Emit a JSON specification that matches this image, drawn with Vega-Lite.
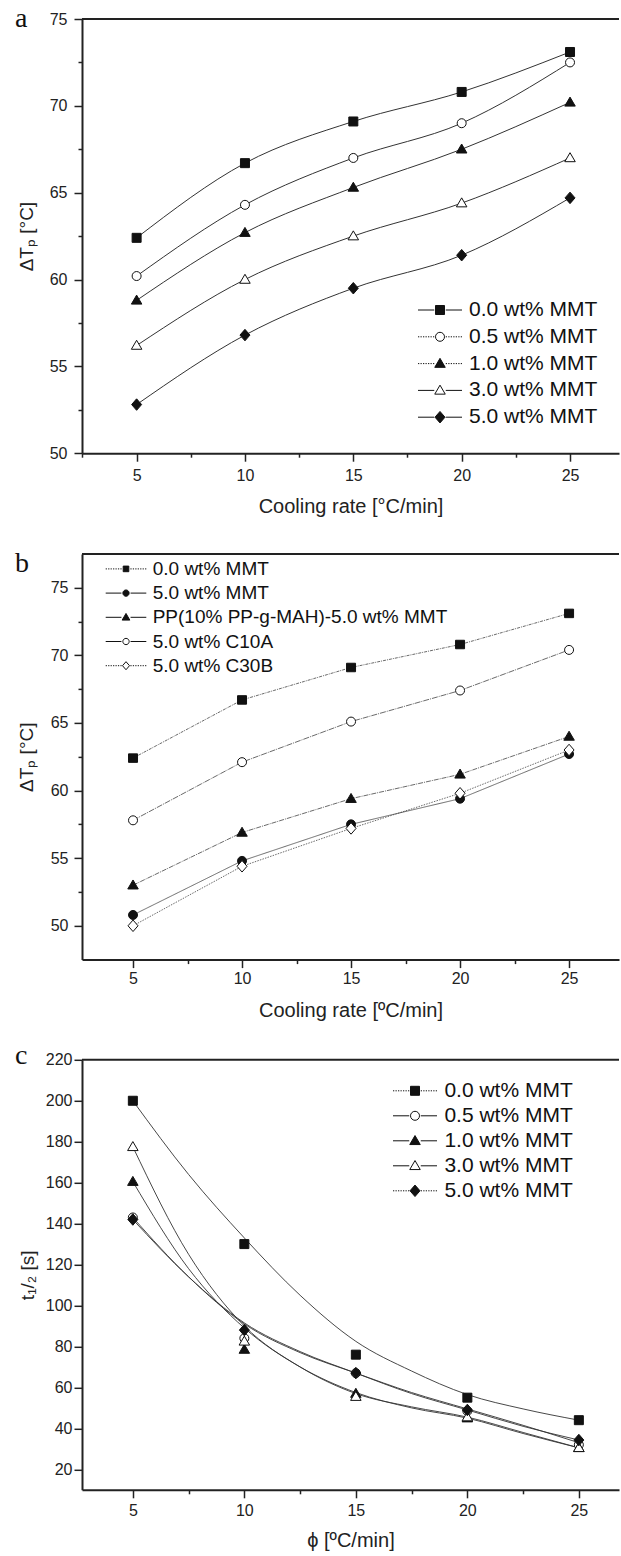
{
  "$schema": "https://vega.github.io/schema/vega-lite/v6.json",
  "background": "white",
  "padding": {"left": 15, "top": 5, "right": 0, "bottom": 0},
  "bounds": "flush",
  "spacing": 99.9,
  "resolve": {
    "scale": {"shape": "independent", "fill": "independent", "stroke": "independent", "strokeDash": "independent"},
    "legend": {"shape": "independent", "fill": "independent", "stroke": "independent", "strokeDash": "independent"}
  },
  "datasets": {
    "a": [
      {"rate": 5, "dT": 62.4, "series": "0.0 wt% MMT"},
      {"rate": 10, "dT": 66.7, "series": "0.0 wt% MMT"},
      {"rate": 15, "dT": 69.1, "series": "0.0 wt% MMT"},
      {"rate": 20, "dT": 70.8, "series": "0.0 wt% MMT"},
      {"rate": 25, "dT": 73.1, "series": "0.0 wt% MMT"},
      {"rate": 5, "dT": 60.2, "series": "0.5 wt% MMT"},
      {"rate": 10, "dT": 64.3, "series": "0.5 wt% MMT"},
      {"rate": 15, "dT": 67.0, "series": "0.5 wt% MMT"},
      {"rate": 20, "dT": 69.0, "series": "0.5 wt% MMT"},
      {"rate": 25, "dT": 72.5, "series": "0.5 wt% MMT"},
      {"rate": 5, "dT": 58.8, "series": "1.0 wt% MMT"},
      {"rate": 10, "dT": 62.7, "series": "1.0 wt% MMT"},
      {"rate": 15, "dT": 65.3, "series": "1.0 wt% MMT"},
      {"rate": 20, "dT": 67.5, "series": "1.0 wt% MMT"},
      {"rate": 25, "dT": 70.2, "series": "1.0 wt% MMT"},
      {"rate": 5, "dT": 56.2, "series": "3.0 wt% MMT"},
      {"rate": 10, "dT": 60.0, "series": "3.0 wt% MMT"},
      {"rate": 15, "dT": 62.5, "series": "3.0 wt% MMT"},
      {"rate": 20, "dT": 64.4, "series": "3.0 wt% MMT"},
      {"rate": 25, "dT": 67.0, "series": "3.0 wt% MMT"},
      {"rate": 5, "dT": 52.8, "series": "5.0 wt% MMT"},
      {"rate": 10, "dT": 56.8, "series": "5.0 wt% MMT"},
      {"rate": 15, "dT": 59.5, "series": "5.0 wt% MMT"},
      {"rate": 20, "dT": 61.4, "series": "5.0 wt% MMT"},
      {"rate": 25, "dT": 64.7, "series": "5.0 wt% MMT"}
    ],
    "b": [
      {"rate": 5, "dT": 62.4, "series": "0.0 wt% MMT"},
      {"rate": 10, "dT": 66.7, "series": "0.0 wt% MMT"},
      {"rate": 15, "dT": 69.1, "series": "0.0 wt% MMT"},
      {"rate": 20, "dT": 70.8, "series": "0.0 wt% MMT"},
      {"rate": 25, "dT": 73.1, "series": "0.0 wt% MMT"},
      {"rate": 5, "dT": 50.8, "series": "5.0 wt% MMT"},
      {"rate": 10, "dT": 54.8, "series": "5.0 wt% MMT"},
      {"rate": 15, "dT": 57.5, "series": "5.0 wt% MMT"},
      {"rate": 20, "dT": 59.4, "series": "5.0 wt% MMT"},
      {"rate": 25, "dT": 62.7, "series": "5.0 wt% MMT"},
      {"rate": 5, "dT": 53.0, "series": "PP(10% PP-g-MAH)-5.0 wt% MMT"},
      {"rate": 10, "dT": 56.9, "series": "PP(10% PP-g-MAH)-5.0 wt% MMT"},
      {"rate": 15, "dT": 59.4, "series": "PP(10% PP-g-MAH)-5.0 wt% MMT"},
      {"rate": 20, "dT": 61.2, "series": "PP(10% PP-g-MAH)-5.0 wt% MMT"},
      {"rate": 25, "dT": 64.0, "series": "PP(10% PP-g-MAH)-5.0 wt% MMT"},
      {"rate": 5, "dT": 57.8, "series": "5.0 wt% C10A"},
      {"rate": 10, "dT": 62.1, "series": "5.0 wt% C10A"},
      {"rate": 15, "dT": 65.1, "series": "5.0 wt% C10A"},
      {"rate": 20, "dT": 67.4, "series": "5.0 wt% C10A"},
      {"rate": 25, "dT": 70.4, "series": "5.0 wt% C10A"},
      {"rate": 5, "dT": 50.0, "series": "5.0 wt% C30B"},
      {"rate": 10, "dT": 54.4, "series": "5.0 wt% C30B"},
      {"rate": 15, "dT": 57.2, "series": "5.0 wt% C30B"},
      {"rate": 20, "dT": 59.8, "series": "5.0 wt% C30B"},
      {"rate": 25, "dT": 63.0, "series": "5.0 wt% C30B"}
    ],
    "cpts": [
      {"phi": 5, "t": 200, "series": "0.0 wt% MMT"},
      {"phi": 10, "t": 130, "series": "0.0 wt% MMT"},
      {"phi": 15, "t": 76, "series": "0.0 wt% MMT"},
      {"phi": 20, "t": 55, "series": "0.0 wt% MMT"},
      {"phi": 25, "t": 44, "series": "0.0 wt% MMT"},
      {"phi": 5, "t": 143, "series": "0.5 wt% MMT"},
      {"phi": 10, "t": 84, "series": "0.5 wt% MMT"},
      {"phi": 15, "t": 67, "series": "0.5 wt% MMT"},
      {"phi": 20, "t": 48.5, "series": "0.5 wt% MMT"},
      {"phi": 25, "t": 32, "series": "0.5 wt% MMT"},
      {"phi": 5, "t": 160.5, "series": "1.0 wt% MMT"},
      {"phi": 10, "t": 78.5, "series": "1.0 wt% MMT"},
      {"phi": 15, "t": 57, "series": "1.0 wt% MMT"},
      {"phi": 20, "t": 45, "series": "1.0 wt% MMT"},
      {"phi": 25, "t": 30.5, "series": "1.0 wt% MMT"},
      {"phi": 5, "t": 177.5, "series": "3.0 wt% MMT"},
      {"phi": 10, "t": 82.5, "series": "3.0 wt% MMT"},
      {"phi": 15, "t": 55.5, "series": "3.0 wt% MMT"},
      {"phi": 20, "t": 45.5, "series": "3.0 wt% MMT"},
      {"phi": 25, "t": 30.5, "series": "3.0 wt% MMT"},
      {"phi": 5, "t": 142, "series": "5.0 wt% MMT"},
      {"phi": 10, "t": 88, "series": "5.0 wt% MMT"},
      {"phi": 15, "t": 67, "series": "5.0 wt% MMT"},
      {"phi": 20, "t": 49, "series": "5.0 wt% MMT"},
      {"phi": 25, "t": 34.3, "series": "5.0 wt% MMT"}
    ],
    "ccurve": [
      {"phi": 5, "t": 200, "series": "0.0 wt% MMT"},
      {"phi": 7.5, "t": 164, "series": "0.0 wt% MMT"},
      {"phi": 10, "t": 133, "series": "0.0 wt% MMT"},
      {"phi": 12.5, "t": 105, "series": "0.0 wt% MMT"},
      {"phi": 15, "t": 82.5, "series": "0.0 wt% MMT"},
      {"phi": 17.5, "t": 68, "series": "0.0 wt% MMT"},
      {"phi": 20, "t": 56.5, "series": "0.0 wt% MMT"},
      {"phi": 22.5, "t": 49.5, "series": "0.0 wt% MMT"},
      {"phi": 25, "t": 44, "series": "0.0 wt% MMT"},
      {"phi": 5, "t": 143, "series": "0.5 wt% MMT"},
      {"phi": 7.5, "t": 114, "series": "0.5 wt% MMT"},
      {"phi": 10, "t": 91, "series": "0.5 wt% MMT"},
      {"phi": 12.5, "t": 77, "series": "0.5 wt% MMT"},
      {"phi": 15, "t": 67, "series": "0.5 wt% MMT"},
      {"phi": 17.5, "t": 57.5, "series": "0.5 wt% MMT"},
      {"phi": 20, "t": 49.5, "series": "0.5 wt% MMT"},
      {"phi": 22.5, "t": 41.5, "series": "0.5 wt% MMT"},
      {"phi": 25, "t": 33, "series": "0.5 wt% MMT"},
      {"phi": 5, "t": 160.5, "series": "1.0 wt% MMT"},
      {"phi": 7.5, "t": 118, "series": "1.0 wt% MMT"},
      {"phi": 10, "t": 89, "series": "1.0 wt% MMT"},
      {"phi": 12.5, "t": 70, "series": "1.0 wt% MMT"},
      {"phi": 15, "t": 57.5, "series": "1.0 wt% MMT"},
      {"phi": 17.5, "t": 50, "series": "1.0 wt% MMT"},
      {"phi": 20, "t": 45, "series": "1.0 wt% MMT"},
      {"phi": 22.5, "t": 37.5, "series": "1.0 wt% MMT"},
      {"phi": 25, "t": 30.5, "series": "1.0 wt% MMT"},
      {"phi": 5, "t": 177.5, "series": "3.0 wt% MMT"},
      {"phi": 7.5, "t": 125, "series": "3.0 wt% MMT"},
      {"phi": 10, "t": 90, "series": "3.0 wt% MMT"},
      {"phi": 12.5, "t": 70, "series": "3.0 wt% MMT"},
      {"phi": 15, "t": 57, "series": "3.0 wt% MMT"},
      {"phi": 17.5, "t": 50.5, "series": "3.0 wt% MMT"},
      {"phi": 20, "t": 45.5, "series": "3.0 wt% MMT"},
      {"phi": 22.5, "t": 38, "series": "3.0 wt% MMT"},
      {"phi": 25, "t": 30.5, "series": "3.0 wt% MMT"},
      {"phi": 5, "t": 142, "series": "5.0 wt% MMT"},
      {"phi": 7.5, "t": 114, "series": "5.0 wt% MMT"},
      {"phi": 10, "t": 91.5, "series": "5.0 wt% MMT"},
      {"phi": 12.5, "t": 77.5, "series": "5.0 wt% MMT"},
      {"phi": 15, "t": 67, "series": "5.0 wt% MMT"},
      {"phi": 17.5, "t": 57, "series": "5.0 wt% MMT"},
      {"phi": 20, "t": 49, "series": "5.0 wt% MMT"},
      {"phi": 22.5, "t": 41, "series": "5.0 wt% MMT"},
      {"phi": 25, "t": 34.3, "series": "5.0 wt% MMT"}
    ]
  },
  "vconcat": [
    {
      "width": 537,
      "height": 434.2,
      "title": {"text": "a", "dx": -67, "dy": 26},
      "data": {"name": "a"},
      "resolve": {
        "scale": {"shape": "independent", "fill": "independent", "stroke": "independent"},
        "legend": {"shape": "independent", "fill": "independent", "stroke": "independent"}
      },
      "layer": [
        {
          "mark": {"type": "line", "interpolate": "monotone", "color": "#333333", "strokeWidth": 1},
          "encoding": {
            "x": {"field": "rate", "type": "quantitative",
              "scale": {"domain": [2.48, 27.26], "nice": false, "zero": false},
              "axis": {"title": "Cooling rate [°C/min]", "format": "d",
                "values": [2.5, 5, 7.5, 10, 12.5, 15, 17.5, 20, 22.5, 25],
                "labelExpr": "datum.value % 5 === 0 ? datum.label : ''",
                "tickSize": {"condition": {"test": "datum.value % 5 === 0", "value": 8}, "value": 4},
                "labelPadding": 6, "titlePadding": 13}},
            "y": {"field": "dT", "type": "quantitative",
              "scale": {"domain": [50, 75], "nice": false, "zero": false},
              "axis": {"title": "ΔTₚ [°C]", "format": "d", "titleFontSize": 19,
                "values": [50, 52.5, 55, 57.5, 60, 62.5, 65, 67.5, 70, 72.5, 75],
                "labelExpr": "datum.value % 5 === 0 ? datum.label : ''",
                "tickSize": {"condition": {"test": "datum.value % 5 === 0", "value": 8}, "value": 4},
                "labelPadding": 7, "titlePadding": 13}},
            "detail": {"field": "series"}
          }
        },
        {
          "mark": {"type": "point", "filled": true, "size": 100, "opacity": 1, "stroke": "#111111", "strokeWidth": 1},
          "encoding": {
            "x": {"field": "rate", "type": "quantitative"},
            "y": {"field": "dT", "type": "quantitative"},
            "shape": {"field": "series", "type": "nominal",
              "scale": {"domain": ["0.0 wt% MMT", "0.5 wt% MMT", "1.0 wt% MMT", "3.0 wt% MMT", "5.0 wt% MMT"],
                "range": ["M-0.9,-0.9H0.9V0.9H-0.9Z", "M0.9,0A0.9,0.9,0,1,1,-0.9,0A0.9,0.9,0,1,1,0.9,0Z", "M0,-1.05L1.05,0.75L-1.05,0.75Z", "M0,-1.05L1.05,0.75L-1.05,0.75Z", "M0,-1.15L1,0L0,1.15L-1,0Z"]},
              "legend": null},
            "fill": {"field": "series", "type": "nominal",
              "scale": {"domain": ["0.0 wt% MMT", "0.5 wt% MMT", "1.0 wt% MMT", "3.0 wt% MMT", "5.0 wt% MMT"],
                "range": ["#111111", "#ffffff", "#111111", "#ffffff", "#111111"]},
              "legend": null}
          }
        },
        {
          "mark": {"type": "point", "filled": false, "strokeWidth": 1, "size": 100, "opacity": 0, "clip": true},
          "encoding": {
            "x": {"field": "rate", "type": "quantitative"},
            "y": {"field": "dT", "type": "quantitative"},
            "shape": {"field": "series", "type": "nominal",
              "scale": {"domain": ["0.0 wt% MMT", "0.5 wt% MMT", "1.0 wt% MMT", "3.0 wt% MMT", "5.0 wt% MMT"],
                "range": ["M-4.4,0H-1.15M1.15,0H4.4M-0.9,-0.9H0.9V0.9H-0.9Z", "M-4.4,0h0.25m0.25,0h0.25m0.25,0h0.25m0.25,0h0.25m0.25,0h0.25m0.25,0h0.25m0.25,0h0.25M1.15,0h0.25m0.25,0h0.25m0.25,0h0.25m0.25,0h0.25m0.25,0h0.25m0.25,0h0.25m0.25,0h0.25M0.9,0A0.9,0.9,0,1,1,-0.9,0A0.9,0.9,0,1,1,0.9,0Z", "M-4.4,0h0.25m0.25,0h0.25m0.25,0h0.25m0.25,0h0.25m0.25,0h0.25m0.25,0h0.25m0.25,0h0.25M1.15,0h0.25m0.25,0h0.25m0.25,0h0.25m0.25,0h0.25m0.25,0h0.25m0.25,0h0.25m0.25,0h0.25M0,-1.05L1.05,0.75L-1.05,0.75Z", "M-4.4,0H-1.15M1.15,0H4.4M0,-1.05L1.05,0.75L-1.05,0.75Z", "M-4.4,0H-1.15M1.15,0H4.4M0,-1.15L1,0L0,1.15L-1,0Z"]},
              "legend": {"title": null, "orient": "none", "legendX": 347.5, "legendY": 280.5,
                "labelFontSize": 21, "labelOffset": 18.5, "rowPadding": 4.8, "symbolSize": 100, "symbolOpacity": 1, "labelLimit": 0}},
            "fill": {"field": "series", "type": "nominal",
              "scale": {"domain": ["0.0 wt% MMT", "0.5 wt% MMT", "1.0 wt% MMT", "3.0 wt% MMT", "5.0 wt% MMT"],
                "range": ["#111111", "#ffffff", "#111111", "#ffffff", "#111111"]},
              "legend": {"title": null, "orient": "none", "legendX": 347.5, "legendY": 280.5,
                "labelFontSize": 21, "labelOffset": 18.5, "rowPadding": 4.8, "symbolSize": 100, "symbolOpacity": 1, "labelLimit": 0}},
            "stroke": {"field": "series", "type": "nominal",
              "scale": {"domain": ["0.0 wt% MMT", "0.5 wt% MMT", "1.0 wt% MMT", "3.0 wt% MMT", "5.0 wt% MMT"],
                "range": ["#111111", "#111111", "#111111", "#111111", "#111111"]},
              "legend": {"title": null, "orient": "none", "legendX": 347.5, "legendY": 280.5,
                "labelFontSize": 21, "labelOffset": 18.5, "rowPadding": 4.8, "symbolSize": 100, "symbolOpacity": 1, "labelLimit": 0}}
          }
        },
        {
          "data": {"values": [{}]},
          "mark": {"type": "rule", "color": "#222222", "strokeWidth": 2},
          "encoding": {"y": {"datum": 75}}
        }
      ]
    },
    {
      "width": 537,
      "height": 405.7,
      "title": {"text": "b", "dx": -67, "dy": 29},
      "data": {"name": "b"},
      "resolve": {
        "scale": {"shape": "independent", "fill": "independent", "stroke": "independent"},
        "legend": {"shape": "independent", "fill": "independent", "stroke": "independent"}
      },
      "layer": [
        {
          "mark": {"type": "line", "color": "#444444", "strokeWidth": 0.8},
          "encoding": {
            "x": {"field": "rate", "type": "quantitative",
              "scale": {"domain": [2.66, 27.29], "nice": false, "zero": false},
              "axis": {"title": "Cooling rate [ºC/min]", "format": "d",
                "values": [5, 7.5, 10, 12.5, 15, 17.5, 20, 22.5, 25],
                "labelExpr": "datum.value % 5 === 0 ? datum.label : ''",
                "tickSize": {"condition": {"test": "datum.value % 5 === 0", "value": 8}, "value": 4},
                "labelPadding": 3, "titlePadding": 14}},
            "y": {"field": "dT", "type": "quantitative",
              "scale": {"domain": [47.5, 77.5], "nice": false, "zero": false},
              "axis": {"title": "ΔTₚ [°C]", "format": "d", "titleFontSize": 19,
                "values": [50, 52.5, 55, 57.5, 60, 62.5, 65, 67.5, 70, 72.5, 75],
                "labelExpr": "datum.value % 5 === 0 ? datum.label : ''",
                "tickSize": {"condition": {"test": "datum.value % 5 === 0", "value": 8}, "value": 4},
                "labelPadding": 6, "titlePadding": 14}},
            "detail": {"field": "series"},
            "strokeDash": {"field": "series", "type": "nominal",
              "scale": {"domain": ["5.0 wt% C30B", "5.0 wt% C10A", "PP(10% PP-g-MAH)-5.0 wt% MMT", "5.0 wt% MMT", "0.0 wt% MMT"],
                "range": [[1.5, 1.2], [6, 1, 1, 1], [5, 1, 1, 1], [1, 0], [3, 1, 1, 1]]},
              "legend": null}
          }
        },
        {
          "mark": {"type": "point", "filled": true, "size": 100, "opacity": 1, "stroke": "#111111", "strokeWidth": 1},
          "encoding": {
            "x": {"field": "rate", "type": "quantitative"},
            "y": {"field": "dT", "type": "quantitative"},
            "shape": {"field": "series", "type": "nominal",
              "scale": {"domain": ["0.0 wt% MMT", "5.0 wt% MMT", "PP(10% PP-g-MAH)-5.0 wt% MMT", "5.0 wt% C10A", "5.0 wt% C30B"],
                "range": ["M-0.9,-0.85H0.9V0.85H-0.9Z", "M0.9,0A0.9,0.9,0,1,1,-0.9,0A0.9,0.9,0,1,1,0.9,0Z", "M0,-1.05L1.05,0.75L-1.05,0.75Z", "M0.9,0A0.9,0.9,0,1,1,-0.9,0A0.9,0.9,0,1,1,0.9,0Z", "M0,-1.15L1,0L0,1.15L-1,0Z"]},
              "legend": null},
            "fill": {"field": "series", "type": "nominal",
              "scale": {"domain": ["0.0 wt% MMT", "5.0 wt% MMT", "PP(10% PP-g-MAH)-5.0 wt% MMT", "5.0 wt% C10A", "5.0 wt% C30B"],
                "range": ["#111111", "#111111", "#111111", "#ffffff", "#ffffff"]},
              "legend": null}
          }
        },
        {
          "mark": {"type": "point", "filled": false, "strokeWidth": 1, "size": 100, "opacity": 0, "clip": true},
          "encoding": {
            "x": {"field": "rate", "type": "quantitative"},
            "y": {"field": "dT", "type": "quantitative"},
            "shape": {"field": "series", "type": "nominal",
              "scale": {"domain": ["0.0 wt% MMT", "5.0 wt% MMT", "PP(10% PP-g-MAH)-5.0 wt% MMT", "5.0 wt% C10A", "5.0 wt% C30B"],
                "range": ["M-5.8,0h0.35m0.35,0h0.35m0.35,0h0.35m0.35,0h0.35m0.35,0h0.35m0.35,0h0.35m0.35,0h0.35M1.25,0h0.35m0.35,0h0.35m0.35,0h0.35m0.35,0h0.35m0.35,0h0.35m0.35,0h0.35m0.35,0h0.35M-0.8,-0.8H0.8V0.8H-0.8Z", "M-5.8,0H-1.3M1.3,0H5.8M0.9,0A0.9,0.9,0,1,1,-0.9,0A0.9,0.9,0,1,1,0.9,0Z", "M-5.8,0H-1.3M1.3,0H5.8M0,-1.1L1.1,0.8L-1.1,0.8Z", "M-5.8,0H-1.3M1.3,0H5.8M0.9,0A0.9,0.9,0,1,1,-0.9,0A0.9,0.9,0,1,1,0.9,0Z", "M-5.8,0h0.35m0.35,0h0.35m0.35,0h0.35m0.35,0h0.35m0.35,0h0.35m0.35,0h0.35m0.35,0h0.35M1.25,0h0.35m0.35,0h0.35m0.35,0h0.35m0.35,0h0.35m0.35,0h0.35m0.35,0h0.35m0.35,0h0.35M0,-1.15L1,0L0,1.15L-1,0Z"]},
              "legend": {"title": null, "orient": "none", "legendX": 34.5, "legendY": 5.5,
                "labelFontSize": 19, "labelOffset": 17.2, "rowPadding": 4.2, "symbolSize": 49, "symbolOpacity": 1, "labelLimit": 0}},
            "fill": {"field": "series", "type": "nominal",
              "scale": {"domain": ["0.0 wt% MMT", "5.0 wt% MMT", "PP(10% PP-g-MAH)-5.0 wt% MMT", "5.0 wt% C10A", "5.0 wt% C30B"],
                "range": ["#111111", "#111111", "#111111", "#ffffff", "#ffffff"]},
              "legend": {"title": null, "orient": "none", "legendX": 34.5, "legendY": 5.5,
                "labelFontSize": 19, "labelOffset": 17.2, "rowPadding": 4.2, "symbolSize": 49, "symbolOpacity": 1, "labelLimit": 0}},
            "stroke": {"field": "series", "type": "nominal",
              "scale": {"domain": ["0.0 wt% MMT", "5.0 wt% MMT", "PP(10% PP-g-MAH)-5.0 wt% MMT", "5.0 wt% C10A", "5.0 wt% C30B"],
                "range": ["#111111", "#111111", "#111111", "#111111", "#111111"]},
              "legend": {"title": null, "orient": "none", "legendX": 34.5, "legendY": 5.5,
                "labelFontSize": 19, "labelOffset": 17.2, "rowPadding": 4.2, "symbolSize": 49, "symbolOpacity": 1, "labelLimit": 0}}
          }
        },
        {
          "data": {"values": [{}]},
          "mark": {"type": "rule", "color": "#222222", "strokeWidth": 2},
          "encoding": {"y": {"datum": 77.5}}
        }
      ]
    },
    {
      "width": 537,
      "height": 430,
      "title": {"text": "c", "dx": -67, "dy": 22},
      "resolve": {
        "scale": {"shape": "independent", "fill": "independent", "stroke": "independent"},
        "legend": {"shape": "independent", "fill": "independent", "stroke": "independent"}
      },
      "layer": [
        {
          "data": {"name": "ccurve"},
          "mark": {"type": "line", "interpolate": "monotone", "color": "#333333", "strokeWidth": 0.9},
          "encoding": {
            "x": {"field": "phi", "type": "quantitative",
              "scale": {"domain": [2.72, 26.8], "nice": false, "zero": false},
              "axis": {"title": "ϕ [ºC/min]", "format": "d",
                "values": [5, 7.5, 10, 12.5, 15, 17.5, 20, 22.5, 25],
                "labelExpr": "datum.value % 5 === 0 ? datum.label : ''",
                "tickSize": {"condition": {"test": "datum.value % 5 === 0", "value": 8}, "value": 4},
                "labelPadding": 5, "titlePadding": 12}},
            "y": {"field": "t", "type": "quantitative",
              "scale": {"domain": [10, 220], "nice": false, "zero": false},
              "axis": {"title": "t₁/₂ [s]", "format": "d", "titleFontSize": 19,
                "values": [20, 30, 40, 50, 60, 70, 80, 90, 100, 110, 120, 130, 140, 150, 160, 170, 180, 190, 200, 210, 220],
                "labelExpr": "datum.value % 20 === 0 ? datum.label : ''",
                "tickSize": {"condition": {"test": "datum.value % 20 === 0", "value": 8}, "value": 4},
                "labelPadding": 2, "titlePadding": 8}},
            "detail": {"field": "series"}
          }
        },
        {
          "data": {"name": "cpts"},
          "mark": {"type": "point", "filled": true, "size": 100, "opacity": 1, "stroke": "#111111", "strokeWidth": 1},
          "encoding": {
            "x": {"field": "phi", "type": "quantitative"},
            "y": {"field": "t", "type": "quantitative"},
            "shape": {"field": "series", "type": "nominal",
              "scale": {"domain": ["0.0 wt% MMT", "0.5 wt% MMT", "1.0 wt% MMT", "3.0 wt% MMT", "5.0 wt% MMT"],
                "range": ["M-0.9,-0.9H0.9V0.9H-0.9Z", "M0.9,0A0.9,0.9,0,1,1,-0.9,0A0.9,0.9,0,1,1,0.9,0Z", "M0,-1.05L1.05,0.75L-1.05,0.75Z", "M0,-1.05L1.05,0.75L-1.05,0.75Z", "M0,-1.15L1,0L0,1.15L-1,0Z"]},
              "legend": null},
            "fill": {"field": "series", "type": "nominal",
              "scale": {"domain": ["0.0 wt% MMT", "0.5 wt% MMT", "1.0 wt% MMT", "3.0 wt% MMT", "5.0 wt% MMT"],
                "range": ["#111111", "#ffffff", "#111111", "#ffffff", "#111111"]},
              "legend": null}
          }
        },
        {
          "data": {"name": "cpts"},
          "mark": {"type": "point", "filled": false, "strokeWidth": 1, "size": 100, "opacity": 0, "clip": true},
          "encoding": {
            "x": {"field": "phi", "type": "quantitative"},
            "y": {"field": "t", "type": "quantitative"},
            "shape": {"field": "series", "type": "nominal",
              "scale": {"domain": ["0.0 wt% MMT", "0.5 wt% MMT", "1.0 wt% MMT", "3.0 wt% MMT", "5.0 wt% MMT"],
                "range": ["M-4.4,0h0.25m0.25,0h0.25m0.25,0h0.25m0.25,0h0.25m0.25,0h0.25m0.25,0h0.25m0.25,0h0.25M1.15,0h0.25m0.25,0h0.25m0.25,0h0.25m0.25,0h0.25m0.25,0h0.25m0.25,0h0.25m0.25,0h0.25M-0.9,-0.9H0.9V0.9H-0.9Z", "M-4.4,0H-1.15M1.15,0H4.4M0.9,0A0.9,0.9,0,1,1,-0.9,0A0.9,0.9,0,1,1,0.9,0Z", "M-4.4,0H-1.15M1.15,0H4.4M0,-1.05L1.05,0.75L-1.05,0.75Z", "M-4.4,0H-1.15M1.15,0H4.4M0,-1.05L1.05,0.75L-1.05,0.75Z", "M-4.4,0h0.25m0.25,0h0.25m0.25,0h0.25m0.25,0h0.25m0.25,0h0.25m0.25,0h0.25m0.25,0h0.25M1.15,0h0.25m0.25,0h0.25m0.25,0h0.25m0.25,0h0.25m0.25,0h0.25m0.25,0h0.25m0.25,0h0.25M0,-1.15L1,0L0,1.15L-1,0Z"]},
              "legend": {"title": null, "orient": "none", "legendX": 322.5, "legendY": 20.5,
                "labelFontSize": 21, "labelOffset": 18.9, "rowPadding": 3, "symbolSize": 100, "symbolOpacity": 1, "labelLimit": 0}},
            "fill": {"field": "series", "type": "nominal",
              "scale": {"domain": ["0.0 wt% MMT", "0.5 wt% MMT", "1.0 wt% MMT", "3.0 wt% MMT", "5.0 wt% MMT"],
                "range": ["#111111", "#ffffff", "#111111", "#ffffff", "#111111"]},
              "legend": {"title": null, "orient": "none", "legendX": 322.5, "legendY": 20.5,
                "labelFontSize": 21, "labelOffset": 18.9, "rowPadding": 3, "symbolSize": 100, "symbolOpacity": 1, "labelLimit": 0}},
            "stroke": {"field": "series", "type": "nominal",
              "scale": {"domain": ["0.0 wt% MMT", "0.5 wt% MMT", "1.0 wt% MMT", "3.0 wt% MMT", "5.0 wt% MMT"],
                "range": ["#111111", "#111111", "#111111", "#111111", "#111111"]},
              "legend": {"title": null, "orient": "none", "legendX": 322.5, "legendY": 20.5,
                "labelFontSize": 21, "labelOffset": 18.9, "rowPadding": 3, "symbolSize": 100, "symbolOpacity": 1, "labelLimit": 0}}
          }
        },
        {
          "data": {"values": [{}]},
          "mark": {"type": "rule", "color": "#222222", "strokeWidth": 2},
          "encoding": {"y": {"datum": 220}}
        }
      ]
    }
  ],
  "config": {
    "view": {"stroke": null},
    "font": "Liberation Sans",
    "axis": {
      "domainColor": "#222222", "domainWidth": 2,
      "tickColor": "#222222", "tickWidth": 1.5,
      "labelFont": "Liberation Sans", "labelFontSize": 16, "labelColor": "#222222",
      "titleFont": "Liberation Sans", "titleFontSize": 20, "titleFontWeight": "normal", "titleColor": "#222222",
      "grid": false, "labelOverlap": false, "labelFlush": false
    },
    "title": {
      "font": "Liberation Serif", "fontSize": 28, "fontWeight": "normal", "color": "#111111",
      "anchor": "start", "frame": "group", "offset": 0, "baseline": "alphabetic"
    },
    "legend": {
      "labelFont": "Liberation Sans", "labelColor": "#111111", "padding": 0, "offset": 0,
      "symbolStrokeWidth": 1, "symbolStrokeColor": "#111111"
    }
  }
}
